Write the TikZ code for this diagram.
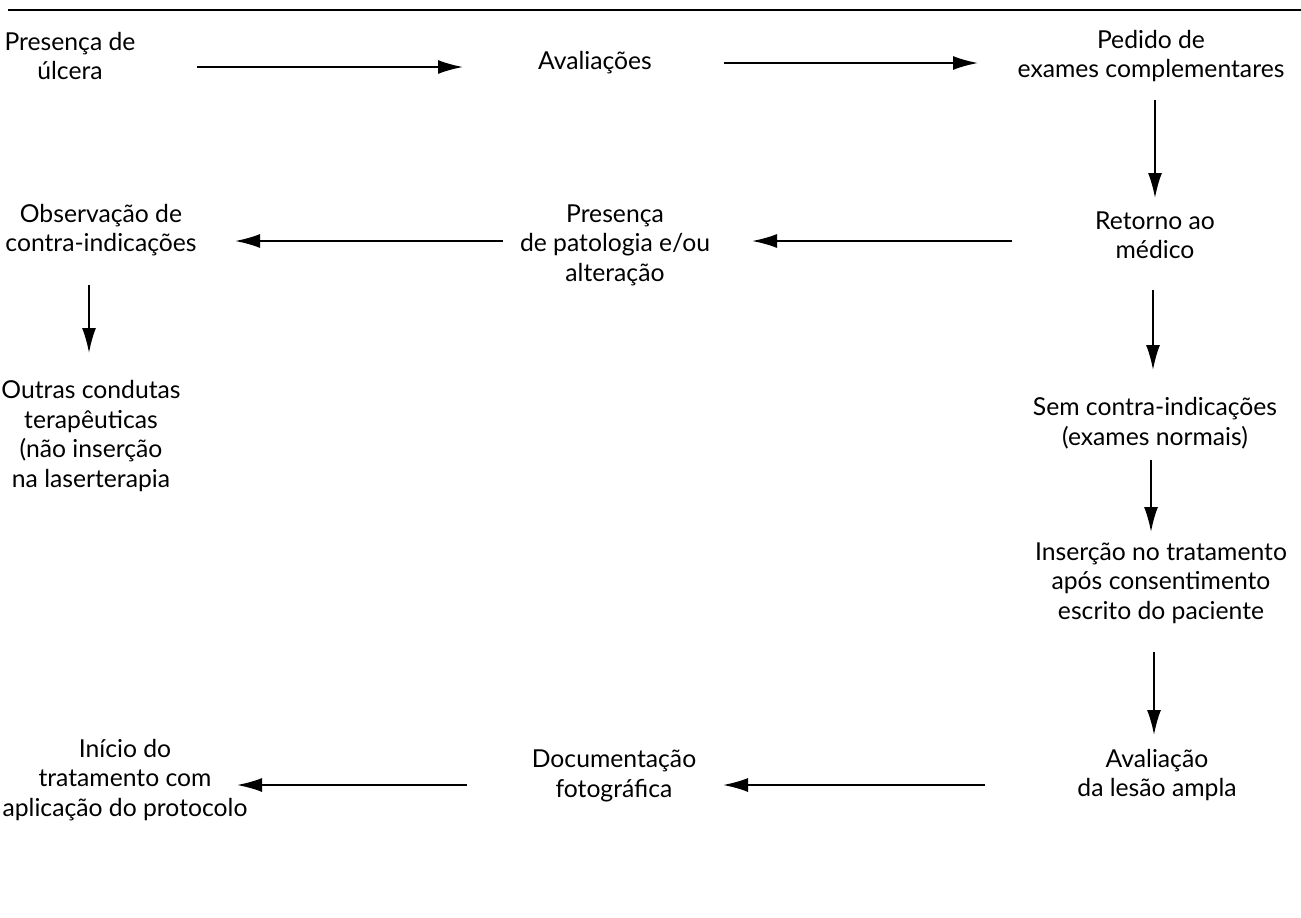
\documentclass[tikz,border=0pt]{standalone}
\usepackage{fontspec}
\setmainfont{Lato}
\usetikzlibrary{arrows.meta,calc}
\tikzset{
  txt/.style={align=center, inner sep=0pt, font=\fontsize{24.7}{29.5}\selectfont},
  arr/.style={-{Latex[length=25pt,width=14pt]}, line width=1.8pt},
}

\begin{document}
\begin{tikzpicture}[x=1pt,y=1pt]
  \useasboundingbox (0,0) rectangle (1301,-918);
  \draw[line width=1.8pt] (8,-10) -- (1301,-10);

  % top row
  \node[txt] (ulcera) at (70,-56) {Presença de\\úlcera};
  \node[txt] (aval) at (595,-63) {Avaliações};
  \node[txt] (pedido) at (1151,-56) {Pedido de\\exames complementares};

  % middle row
  \node[txt] (retorno) at (1155,-235) {Retorno ao\\médico};
  \node[txt] (patol) at (615,-245) {Presença\\de patologia e/ou\\alteração};
  \node[txt] (obs) at (101,-230) {Observação de\\contra-indicações};
  \node[txt] (outras) at (91,-436) {Outras condutas\\terapêuticas\\(não inserção\\na laserterapia};

  % right column
  \node[txt] (sem) at (1155,-423) {Sem contra-indicações\\(exames normais)};
  \node[txt] (insercao) at (1161,-583) {Inserção no tratamento\\após consentimento\\escrito do paciente};
  \node[txt] (avlesao) at (1157,-775) {Avaliação\\da lesão ampla};

  % bottom row
  \node[txt] (doc) at (614,-776) {Documentação\\fotográfica};
  \node[txt] (inicio) at (125,-780) {Início do\\tratamento com\\aplicação do protocolo};

  \draw[arr] ([shift={(127,-11)}]ulcera.center) -- ([shift={(-132,-4)}]aval.center);
  \draw[arr] ([shift={(129,0)}]aval.center) -- ([shift={(-173,-7)}]pedido.center);
  \draw[arr] ([shift={(4,-44)}]pedido.center) -- ([shift={(0,37)}]retorno.center);
  \draw[arr] ([shift={(-143,-6)}]retorno.center) -- ([shift={(137,4)}]patol.center);
  \draw[arr] ([shift={(-112,4)}]patol.center) -- ([shift={(134,-11)}]obs.center);
  \draw[arr] ([shift={(-12,-55)}]obs.center) -- ([shift={(-2,83)}]outras.center);
  \draw[arr] ([shift={(-2,-55)}]retorno.center) -- ([shift={(-2,53)}]sem.center);
  \draw[arr] ([shift={(-4,-37)}]sem.center) -- ([shift={(-10,51)}]insercao.center);
  \draw[arr] ([shift={(-7,-69)}]insercao.center) -- ([shift={(-3,40)}]avlesao.center);
  \draw[arr] ([shift={(-172,-10)}]avlesao.center) -- ([shift={(109,-9)}]doc.center);
  \draw[arr] ([shift={(-147,-9)}]doc.center) -- ([shift={(112,-5)}]inicio.center);
\end{tikzpicture}
\end{document}
